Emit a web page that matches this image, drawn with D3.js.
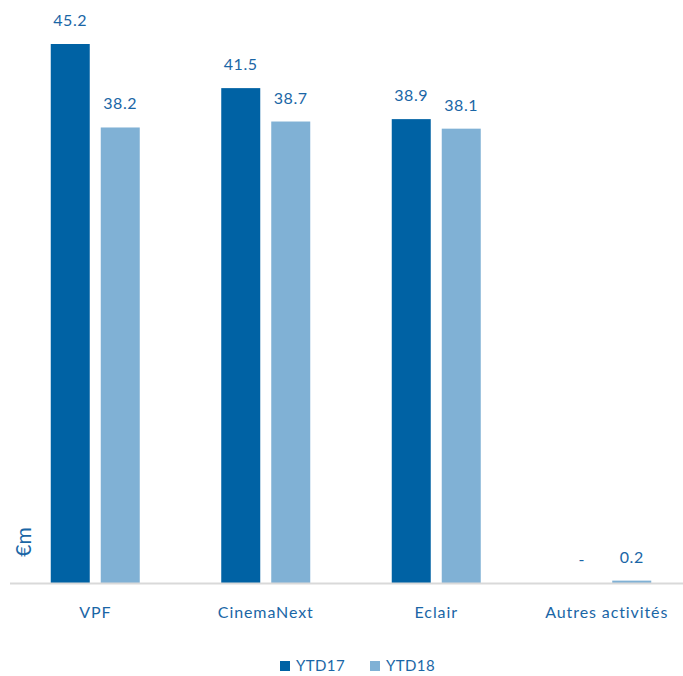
<!DOCTYPE html>
<html><head><meta charset="utf-8">
<script src="https://cdn.jsdelivr.net/npm/d3@7"></script>
<style>body{margin:0;background:#fff;} text{font-family:Lato,"Open Sans",sans-serif;}</style>
</head><body>
<svg id="c" width="683" height="676"></svg>
<script>
const categories = ["VPF", "CinemaNext", "Eclair", "Autres activités"];
const seriesNames = ["YTD17", "YTD18"];
const ytd17 = [45.2, 41.5, 38.9, 0];
const ytd18 = [38.2, 38.7, 38.1, 0.2];
const labels17 = ["45.2", "41.5", "38.9", "-"];
const labels18 = ["38.2", "38.7", "38.1", "0.2"];
const colors = ["#0062a4", "#80b1d5"];
const textColor = "#1a66a6";

const svg = d3.select("#c");
const baseY = 583;
const x = d3.scaleBand().domain(categories).range([10, 692]).paddingInner(0).paddingOuter(0);
const y = d3.scaleLinear().domain([0, 45.2]).range([baseY, 44]);
const barW = 39, gap = 11;
const data = [ytd17, ytd18];
const labs = [labels17, labels18];

data.forEach((vals, s) => {
  const off = s === 0 ? -(gap/2 + barW) : gap/2;
  svg.append("g").selectAll("rect").data(categories).join("rect")
    .attr("x", (d) => x(d) + x.bandwidth()/2 + off)
    .attr("width", barW)
    .attr("y", (d,i) => y(vals[i]))
    .attr("height", (d,i) => baseY - y(vals[i]))
    .attr("fill", colors[s]);
  svg.append("g").selectAll("text").data(categories).join("text")
    .attr("x", (d) => x(d) + x.bandwidth()/2 + off + barW/2)
    .attr("y", (d,i) => y(vals[i]) - 18)
    .attr("text-anchor", "middle")
    .attr("font-size", 16)
    .attr("letter-spacing", 0.6)
    .attr("fill", textColor)
    .text((d,i) => labs[s][i]);
});

svg.append("line").attr("x1", 10).attr("x2", 683).attr("y1", baseY+0.5).attr("y2", baseY+0.5)
  .attr("stroke", "#d9d9d9").attr("stroke-width", 2);

const ax = svg.append("g").attr("transform", `translate(0,${baseY})`)
  .call(d3.axisBottom(x).tickSize(0).tickPadding(24));
ax.select(".domain").remove();
ax.selectAll("text").attr("font-size", 16).attr("letter-spacing", 0.9).attr("fill", textColor).style("font-family", "Lato, sans-serif");

svg.append("text").attr("transform", "translate(31,542) rotate(-90)")
  .attr("text-anchor", "middle").attr("font-size", 21).attr("fill", textColor).text("€m");

const leg = svg.append("g");
const legX = [280, 370];
seriesNames.forEach((n, i) => {
  leg.append("rect").attr("x", legX[i]).attr("y", 661).attr("width", 10).attr("height", 10).attr("fill", colors[i]);
  leg.append("text").attr("x", legX[i] + 16).attr("y", 671).attr("font-size", 15).attr("letter-spacing", 0.4).attr("fill", textColor).text(n);
});
</script>
</body></html>
